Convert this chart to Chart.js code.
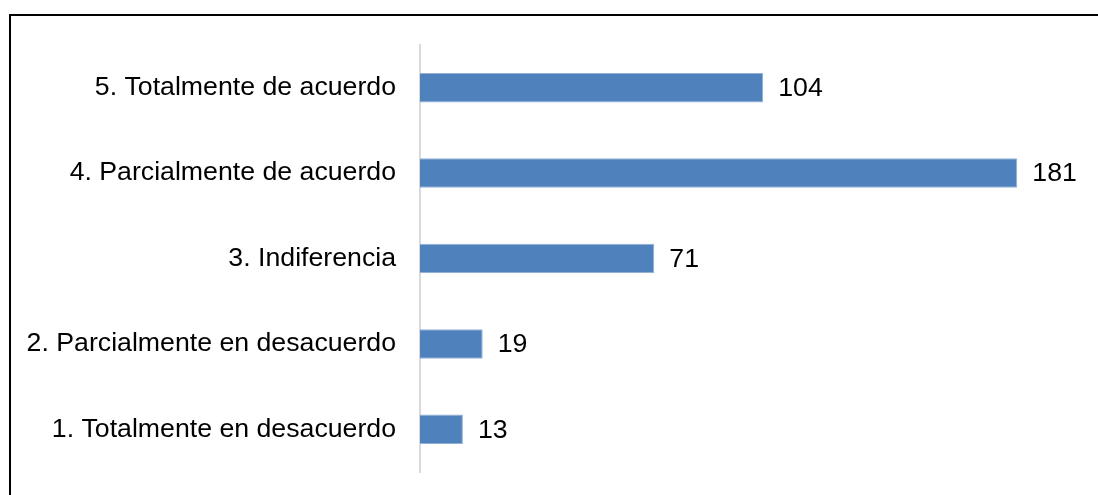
<!DOCTYPE html>
<html>
<head>
<meta charset="utf-8">
<script src="https://cdn.jsdelivr.net/npm/chart.js@4/dist/chart.umd.min.js"></script>
<style>
  html, body { margin: 0; padding: 0; background: #fff; overflow: hidden; }
  #frame {
    position: absolute; left: 9px; top: 14px; width: 1200px; height: 600px;
    border-left: 2px solid #000; border-top: 2px solid #000;
  }
  #chart { position: absolute; left: 0; top: 0; }
</style>
</head>
<body>
<div id="frame"></div>
<canvas id="chart" width="1098" height="495"></canvas>
<script>
/*** Data ***/
const categories = [
    '5. Totalmente de acuerdo',
    '4. Parcialmente de acuerdo',
    '3. Indiferencia',
    '2. Parcialmente en desacuerdo',
    '1. Totalmente en desacuerdo'
];
const responses = [104, 181, 71, 19, 13];

const labelFont = { family: '"Liberation Sans", Arial, sans-serif', size: 26.7 };

/*** Value labels next to each bar ***/
const valueLabels = {
    id: 'valueLabels',
    afterDatasetsDraw(chart) {
        const ctx = chart.ctx;
        const meta = chart.getDatasetMeta(0);
        ctx.save();
        ctx.font = labelFont.size + 'px ' + labelFont.family;
        ctx.fillStyle = '#000';
        ctx.textAlign = 'left';
        ctx.textBaseline = 'middle';
        meta.data.forEach(function (bar, i) {
            ctx.fillText(String(responses[i]), bar.x + 15, bar.y + 1);
        });
        ctx.restore();
    }
};

new Chart(document.getElementById('chart'), {
    type: 'bar',
    data: {
        labels: categories,
        datasets: [{
            data: responses,
            backgroundColor: '#4f81bd',
            borderColor: '#93afd6',
            borderWidth: 1,
            categoryPercentage: 1,
            barPercentage: 0.345
        }]
    },
    options: {
        indexAxis: 'y',
        responsive: false,
        animation: false,
        layout: {
            padding: { top: 45, bottom: 23, right: 18, left: 0 }
        },
        plugins: {
            legend: { display: false },
            tooltip: { enabled: false }
        },
        scales: {
            x: {
                display: false,
                min: 0,
                max: 200
            },
            y: {
                afterFit: function (axis) {
                    axis.width = 420;
                    axis.paddingTop = 0;
                    axis.paddingBottom = 0;
                },
                grid: { display: false, drawTicks: false },
                border: { display: true, color: '#d9d9d9', width: 2 },
                ticks: {
                    color: '#000',
                    font: labelFont,
                    padding: 24
                }
            }
        }
    },
    plugins: [valueLabels]
});
</script>
</body>
</html>
